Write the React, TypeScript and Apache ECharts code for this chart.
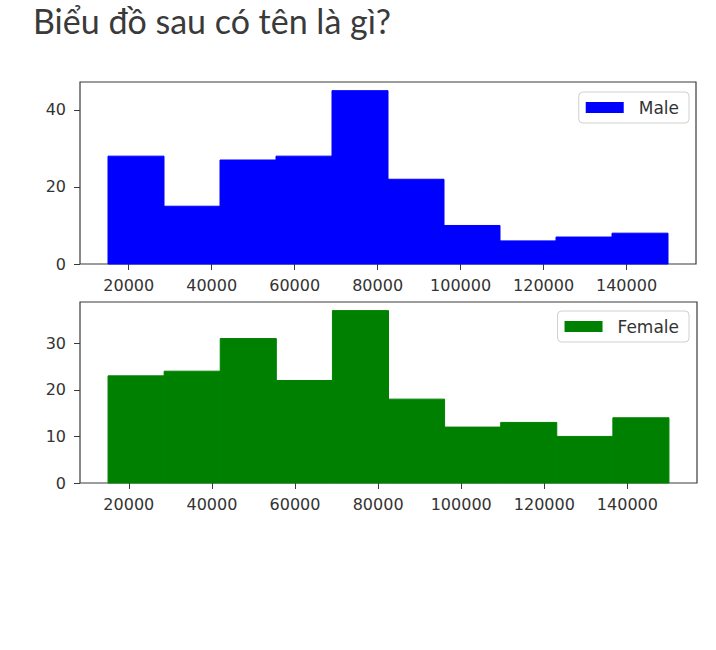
import React, { useEffect, useRef } from "react";
import * as echarts from "echarts";

const titleText = "Biểu đồ sau có tên là gì?";
const binEdges = [15000, 28500, 42000, 55500, 69000, 82500, 96000, 109500, 123000, 136500, 150000];
const maleCounts = [28, 15, 27, 28, 45, 22, 10, 6, 7, 8];
const femaleCounts = [23, 24, 31, 22, 37, 18, 12, 13, 10, 14];
const xTicks = [20000, 40000, 60000, 80000, 100000, 120000, 140000];
const seriesNames = ["Male", "Female"];
const seriesColors = ["#0000ff", "#008000"];

const toBins = (counts: number[]) => counts.map((c, i) => [binEdges[i], binEdges[i + 1], c]);

export default function App() {
  const ref = useRef<HTMLDivElement>(null);
  useEffect(() => {
    if (!ref.current) return;
    const chart = echarts.init(ref.current, null, { renderer: "svg" });
    const frame = "#3a3a3a";
    const labelColor = "#333";
    const font = "'DejaVu Sans', sans-serif";
    const renderItem = (params: any, api: any) => {
      const s = api.coord([api.value(0), api.value(2)]);
      const e = api.coord([api.value(1), 0]);
      const c = seriesColors[params.seriesIndex];
      return {
        type: "rect",
        shape: { x: s[0], y: s[1], width: e[0] - s[0], height: e[1] - s[1] },
        style: { fill: c, stroke: c, lineWidth: 1 },
      };
    };
    const grids = [
      { left: 80, top: 82, width: 616, height: 182 },
      { left: 80, top: 302, width: 617, height: 181 },
    ];
    const xAxis = grids.map((_, i) => ({
      type: "value",
      gridIndex: i,
      min: (v: any) => v.min - (v.max - v.min) * 0.05,
      max: (v: any) => v.max + (v.max - v.min) * 0.05,
      axisLine: { show: false },
      splitLine: { show: false },
      axisTick: { show: true, length: 6, lineStyle: { color: frame }, customValues: xTicks },
      axisLabel: {
        customValues: xTicks,
        formatter: (v: number) => String(v),
        fontSize: 16,
        fontFamily: font,
        color: labelColor,
        margin: 13,
      },
    }));
    const yAxis = [20, 10].map((interval, i) => ({
      type: "value",
      gridIndex: i,
      min: 0,
      max: (v: any) => v.max * 1.05,
      interval,
      axisLine: { show: false },
      splitLine: { show: false },
      axisTick: { show: true, length: 6, lineStyle: { color: frame } },
      axisLabel: {
        fontSize: 16,
        fontFamily: font,
        color: labelColor,
        margin: 14,
        showMaxLabel: false,
      },
    }));
    const data = [maleCounts, femaleCounts];
    chart.setOption({
      animation: false,
      backgroundColor: "#fff",
      grid: grids.map((g) => ({
        ...g,
        show: true,
        borderColor: frame,
        borderWidth: 1.2,
        backgroundColor: "transparent",
        outerBoundsMode: "none",
      })),
      xAxis,
      yAxis,
      legend: seriesNames.map((name, i) => ({
        data: [{ name, icon: "rect" }],
        right: 27,
        top: i === 0 ? 92 : 311,
        itemWidth: 38,
        itemHeight: 11,
        padding: [7, 10, 7, 7],
        borderColor: "#d0d0d0",
        borderWidth: 1,
        borderRadius: 4,
        backgroundColor: "rgba(255,255,255,0.8)",
        textStyle: { fontSize: 17, fontFamily: font, color: labelColor, padding: [0, 0, 0, 10] },
        selectedMode: false,
      })),
      graphic: [
        {
          type: "text",
          left: 33,
          top: 3,
          style: {
            text: titleText,
            fontSize: 34,
            fontFamily: "Lato",
            fill: "#3a3a3a",
          },
        },
      ],
      series: seriesNames.map((name, i) => ({
        type: "custom",
        name,
        xAxisIndex: i,
        yAxisIndex: i,
        renderItem,
        encode: { x: [0, 1], y: 2 },
        itemStyle: { color: seriesColors[i] },
        data: toBins(data[i]),
      })),
    });
    return () => chart.dispose();
  }, []);
  return (
    <div
      ref={ref}
      style={{ position: "absolute", left: 0, top: 0, width: 716, height: 650, background: "#fff" }}
    />
  );
}
